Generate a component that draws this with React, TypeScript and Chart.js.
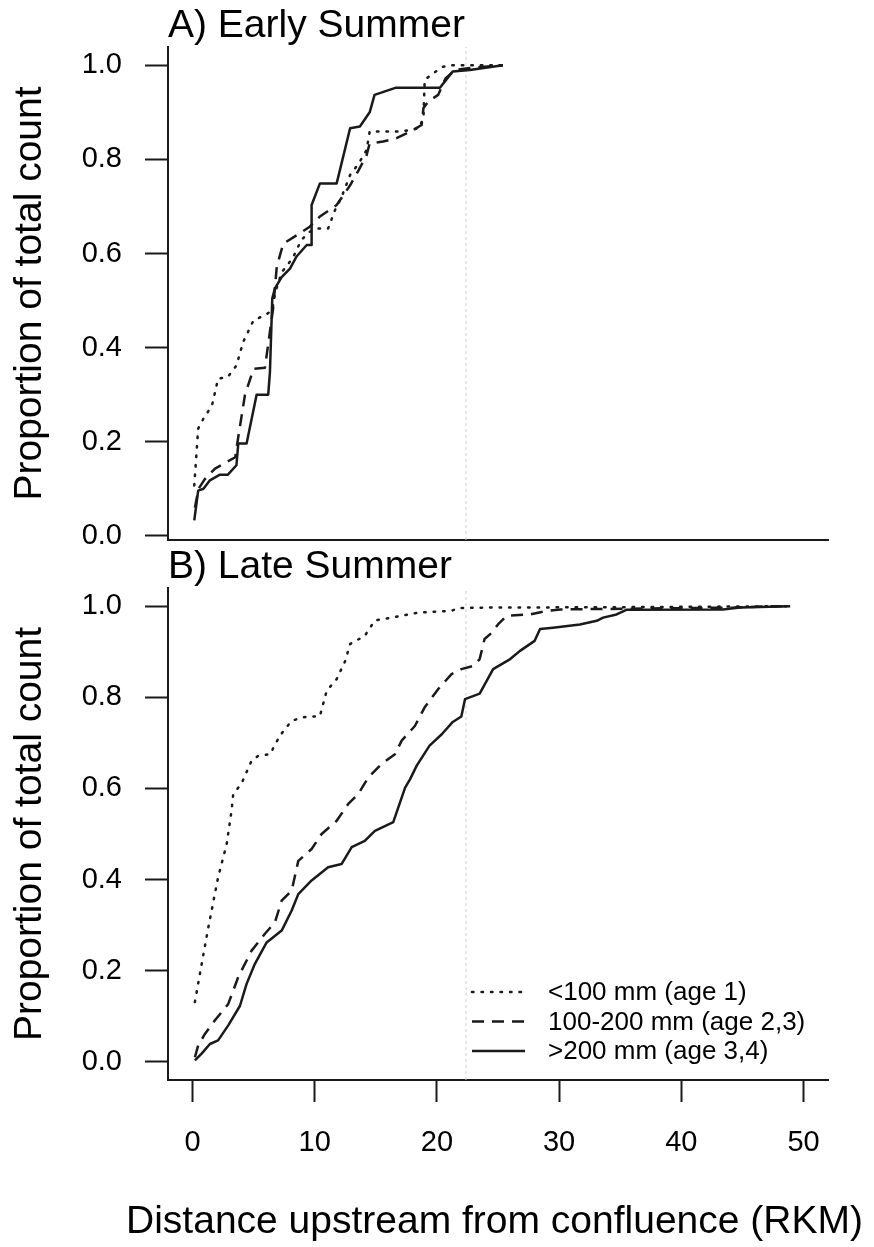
import React, { useEffect, useRef } from 'react';
import { Chart, registerables } from 'chart.js';

Chart.register(...registerables);

// ---------------- data ----------------
const X_TICKS = [0, 10, 20, 30, 40, 50];
const Y_TICKS = [0, 0.2, 0.4, 0.6, 0.8, 1.0];
const X_RANGE = [-2, 52];
const EARLY_Y_RANGE = [-0.0088, 1.0388];
const LATE_Y_RANGE = [-0.04, 1.04];
const REFERENCE_RKM = 22.38;
const SERIES_LABELS = ['<100 mm (age 1)', '100-200 mm (age 2,3)', '>200 mm (age 3,4)'];
const PANEL_TITLES = ['A) Early Summer', 'B) Late Summer'];
const X_TITLE = 'Distance upstream from confluence (RKM)';
const Y_TITLE = 'Proportion of total count';

// Early summer: [RKM, cumulative proportion]
const earlyAge1: [number, number][] = [
  [0.15, 0.107], [0.47, 0.228], [0.9, 0.249], [1.6, 0.277], [2.1, 0.334], [2.9, 0.338],
  [3.6, 0.362], [4.15, 0.412], [5.0, 0.458], [5.93, 0.469], [6.53, 0.479], [6.75, 0.515],
  [7.3, 0.56], [8.2, 0.59], [8.9, 0.628], [9.5, 0.645], [10.2, 0.653], [11.1, 0.653],
  [11.66, 0.692], [12.2, 0.72], [12.9, 0.767], [13.6, 0.791], [14.25, 0.82], [14.5, 0.859],
  [16.7, 0.859], [17.8, 0.862], [18.5, 0.866], [18.9, 0.887], [19.0, 0.969], [19.7, 0.983],
  [20.5, 0.997], [21.2, 1.0], [25.4, 1.0],
];
const earlyAge23: [number, number][] = [
  [0.2, 0.06], [0.5, 0.1], [1.0, 0.12], [1.85, 0.143], [3.5, 0.167], [3.75, 0.21],
  [4.3, 0.3], [5.0, 0.355], [5.93, 0.357], [6.6, 0.483], [6.9, 0.572], [7.43, 0.621],
  [8.8, 0.643], [9.6, 0.657], [10.4, 0.678], [11.8, 0.703], [12.9, 0.745], [13.6, 0.777],
  [14.25, 0.809], [14.5, 0.834], [15.6, 0.838], [16.7, 0.845], [17.8, 0.859], [18.75, 0.873],
  [18.9, 0.909], [19.3, 0.923], [20.1, 0.937], [20.7, 0.972], [21.5, 0.99], [22.7, 0.994],
  [25.4, 1.0],
];
const earlyAge34: [number, number][] = [
  [0.15, 0.033], [0.47, 0.096], [0.9, 0.1], [1.43, 0.118], [2.25, 0.13], [2.9, 0.13],
  [3.6, 0.15], [3.75, 0.196], [4.43, 0.196], [5.25, 0.3], [6.2, 0.3], [6.34, 0.348],
  [6.53, 0.504], [6.75, 0.526], [7.3, 0.55], [7.98, 0.568], [8.5, 0.593], [9.35, 0.618],
  [9.75, 0.618], [9.75, 0.703], [10.43, 0.749], [11.8, 0.749], [12.9, 0.866], [13.7, 0.87],
  [14.5, 0.9], [14.9, 0.937], [16.6, 0.952], [20.25, 0.952], [21.3, 0.987], [22.7, 0.99],
  [25.4, 1.0],
];

// Late summer: [RKM, cumulative proportion]
const lateAge1: [number, number][] = [
  [0.2, 0.131], [0.61, 0.193], [1.3, 0.295], [2.1, 0.405], [2.8, 0.478], [3.2, 0.551],
  [3.34, 0.588], [4.0, 0.61], [4.84, 0.661], [5.4, 0.672], [6.34, 0.675], [7.16, 0.716],
  [8.1, 0.748], [8.94, 0.756], [10.43, 0.759], [10.98, 0.814], [11.8, 0.84], [12.5, 0.88],
  [12.9, 0.917], [14.1, 0.935], [14.93, 0.969], [16.3, 0.975], [18.5, 0.986], [21.2, 0.99],
  [21.75, 0.996], [23.9, 0.997], [35.5, 0.998], [48.9, 1.0],
];
const lateAge23: [number, number][] = [
  [0.2, 0.01], [0.47, 0.036], [1.02, 0.061], [1.84, 0.091], [2.93, 0.127], [3.75, 0.186],
  [4.84, 0.244], [5.93, 0.281], [6.75, 0.306], [7.3, 0.354], [8.12, 0.376], [8.66, 0.441],
  [9.75, 0.467], [10.57, 0.5], [11.8, 0.529], [12.75, 0.566], [13.57, 0.588], [14.39, 0.624],
  [15.48, 0.654], [16.57, 0.675], [17.12, 0.705], [18.2, 0.737], [19.0, 0.778], [20.1, 0.818],
  [21.2, 0.851], [22.0, 0.862], [23.0, 0.869], [23.5, 0.884], [23.9, 0.928], [24.5, 0.942],
  [25.0, 0.96], [25.7, 0.979], [27.6, 0.982], [29.0, 0.99], [30.1, 0.993], [44.3, 0.997],
  [47.5, 1.0], [48.9, 1.0],
];
const lateAge34: [number, number][] = [
  [0.2, 0.003], [0.75, 0.018], [1.43, 0.039], [2.1, 0.047], [2.93, 0.08], [3.89, 0.123],
  [4.43, 0.171], [5.11, 0.215], [6.07, 0.262], [7.3, 0.288], [8.12, 0.332], [8.66, 0.368],
  [9.75, 0.398], [11.1, 0.427], [12.2, 0.434], [13.03, 0.471], [14.1, 0.485], [14.93, 0.507],
  [16.43, 0.526], [17.4, 0.602], [17.8, 0.62], [18.35, 0.65], [19.4, 0.694], [20.4, 0.719],
  [21.3, 0.746], [22.0, 0.758], [22.3, 0.796], [23.5, 0.808], [24.6, 0.862], [26.0, 0.884],
  [26.8, 0.902], [28.0, 0.924], [28.44, 0.95], [29.5, 0.953], [31.7, 0.96], [33.08, 0.968],
  [33.6, 0.975], [34.7, 0.982], [35.5, 0.992], [43.4, 0.993], [44.8, 0.997], [48.9, 1.0],
];

// ---------------- styling ----------------
const FONT = "'Liberation Sans', Arial, Helvetica, sans-serif";
const INK = '#1a1a1a';
const LINE_STYLES = [
  { borderDash: [1.5, 8], borderCapStyle: 'round' },
  { borderDash: [12, 8], borderCapStyle: 'butt' },
  { borderDash: [], borderCapStyle: 'butt' },
];
const PAGE_W = 874;

const legendPlugin = {
  id: 'inlineLegend',
  afterDatasetsDraw(chart: any, _args: any, opts: any) {
    if (!opts || !opts.show) return;
    const { ctx, chartArea } = chart;
    const x0 = chartArea.left + 304;
    const x1 = chartArea.left + 357;
    const tx = chartArea.left + 380;
    ctx.save();
    SERIES_LABELS.forEach((label, i) => {
      const y = chartArea.top + 404 + i * 29.5;
      const st: any = LINE_STYLES[i];
      ctx.beginPath();
      ctx.setLineDash(st.borderDash);
      ctx.lineCap = st.borderCapStyle;
      ctx.lineWidth = 2.5;
      ctx.strokeStyle = INK;
      ctx.moveTo(x0, y);
      ctx.lineTo(x1, y);
      ctx.stroke();
      ctx.setLineDash([]);
      ctx.fillStyle = '#000';
      ctx.font = `26px ${FONT}`;
      ctx.textAlign = 'left';
      ctx.textBaseline = 'middle';
      ctx.fillText(label, tx, y + 1);
    });
    ctx.restore();
  },
};

function buildConfig(opts: {
  title: string;
  series: [number, number][][];
  yRange: number[];
  canvasH: number;
  areaBottom: number;
  titlePadTop: number;
  showX: boolean;
  legend: boolean;
}) {
  const datasets: any[] = opts.series.map((pairs, i) => ({
    label: SERIES_LABELS[i],
    data: pairs.map(([x, y]) => ({ x, y })),
    showLine: true,
    pointRadius: 0,
    pointHoverRadius: 0,
    borderColor: INK,
    borderWidth: 2.5,
    borderJoinStyle: 'round',
    tension: 0,
    fill: false,
    ...LINE_STYLES[i],
  }));
  datasets.push({
    label: 'reference',
    data: [
      { x: REFERENCE_RKM, y: opts.yRange[0] },
      { x: REFERENCE_RKM, y: opts.yRange[1] },
    ],
    showLine: true,
    pointRadius: 0,
    borderColor: '#cfcfcf',
    borderWidth: 1,
    borderDash: [3, 3],
  });

  const xHeight = opts.canvasH - opts.areaBottom;

  return {
    type: 'scatter',
    data: { datasets },
    plugins: [legendPlugin],
    options: {
      animation: false,
      responsive: false,
      devicePixelRatio: 1,
      events: [],
      layout: { padding: { left: 0, right: PAGE_W - 828, top: 0, bottom: 0 }, autoPadding: false },
      plugins: {
        legend: { display: false },
        tooltip: { enabled: false },
        inlineLegend: { show: opts.legend },
        title: {
          display: true,
          text: opts.title,
          align: 'start',
          fullSize: false,
          color: '#000',
          font: { family: FONT, size: 39, weight: 'normal', lineHeight: 1.077 },
          padding: { top: opts.titlePadTop, bottom: 0 },
        },
      },
      scales: {
        x: {
          type: 'linear',
          min: X_RANGE[0],
          max: X_RANGE[1],
          afterBuildTicks: (s: any) => {
            s.ticks = X_TICKS.map((v) => ({ value: v }));
          },
          afterFit: (s: any) => {
            s.height = xHeight;
          },
          grid: {
            display: true,
            drawOnChartArea: false,
            drawTicks: opts.showX,
            tickLength: 22,
            tickWidth: 2,
            tickColor: INK,
          },
          border: { display: true, color: INK, width: 2 },
          ticks: {
            display: opts.showX,
            autoSkip: false,
            maxRotation: 0,
            padding: 24,
            color: '#000',
            font: { family: FONT, size: 29 },
            callback: (v: any) => String(v),
          },
          title: { display: false },
        },
        y: {
          type: 'linear',
          min: opts.yRange[0],
          max: opts.yRange[1],
          afterBuildTicks: (s: any) => {
            s.ticks = Y_TICKS.map((v) => ({ value: v }));
          },
          afterFit: (s: any) => {
            s.width = 168;
          },
          grid: {
            display: true,
            drawOnChartArea: false,
            drawTicks: true,
            tickLength: 23,
            tickWidth: 2,
            tickColor: INK,
          },
          border: { display: true, color: INK, width: 2 },
          ticks: {
            padding: 23,
            color: '#000',
            font: { family: FONT, size: 29 },
            callback: (v: any) => Number(v).toFixed(1),
          },
          title: {
            display: true,
            text: Y_TITLE,
            color: '#000',
            font: { family: FONT, size: 39 },
            padding: { top: 7, bottom: 0 },
          },
        },
      },
    },
  };
}

function Panel(props: { top: number; height: number; config: () => any }) {
  const ref = useRef<HTMLCanvasElement | null>(null);
  useEffect(() => {
    if (!ref.current) return;
    const chart = new Chart(ref.current, props.config());
    return () => chart.destroy();
  }, []);
  return (
    <canvas
      ref={ref}
      width={PAGE_W}
      height={props.height}
      style={{ position: 'absolute', left: 0, top: props.top, width: PAGE_W, height: props.height }}
    />
  );
}

export default function App() {
  useEffect(() => {
    document.body.style.margin = '0';
  }, []);
  return (
    <div style={{ position: 'absolute', left: 0, top: 0, width: PAGE_W, height: 1247, background: '#fff' }}>
      <Panel
        top={0}
        height={600}
        config={() =>
          buildConfig({
            title: PANEL_TITLES[0],
            series: [earlyAge1, earlyAge23, earlyAge34],
            yRange: EARLY_Y_RANGE,
            canvasH: 600,
            areaBottom: 540,
            titlePadTop: 5,
            showX: false,
            legend: false,
          })
        }
      />
      <Panel
        top={544}
        height={703}
        config={() =>
          buildConfig({
            title: PANEL_TITLES[1],
            series: [lateAge1, lateAge23, lateAge34],
            yRange: LATE_Y_RANGE,
            canvasH: 703,
            areaBottom: 536,
            titlePadTop: 2,
            showX: true,
            legend: true,
          })
        }
      />
      <div
        style={{
          position: 'absolute',
          left: 0,
          top: 1197,
          width: 989,
          textAlign: 'center',
          whiteSpace: 'nowrap',
          fontFamily: FONT,
          fontSize: 39,
          lineHeight: '45px',
          color: '#000',
        }}
      >
        {X_TITLE}
      </div>
    </div>
  );
}
